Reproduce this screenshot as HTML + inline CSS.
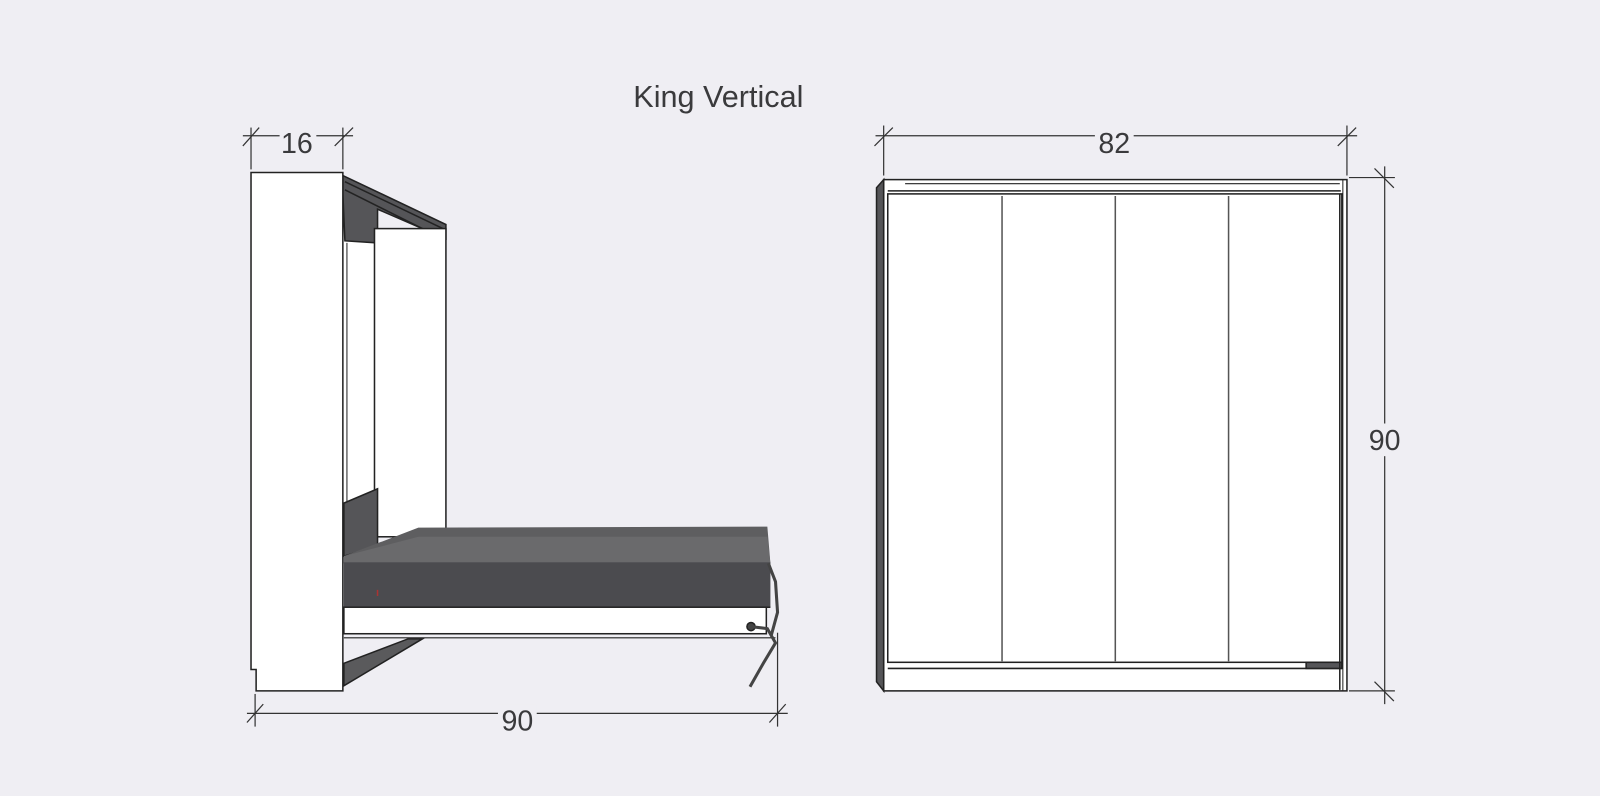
<!DOCTYPE html>
<html><head><meta charset="utf-8"><style>
html,body{margin:0;padding:0;background:#efeef3;}
svg{display:block;}
text{font-family:"Liberation Sans",sans-serif;fill:#3a3a3c;}
</style></head><body>
<svg width="1600" height="796" viewBox="0 0 1568 780" preserveAspectRatio="none" xmlns="http://www.w3.org/2000/svg">
<rect width="1568" height="780" fill="#efeef3"/>
<text x="704" y="105" font-size="30" text-anchor="middle">King Vertical</text>

<!-- LEFT VIEW -->
<g stroke="#222" stroke-width="1.5">
  <polygon points="337,650 400,626 414,626 337,672" fill="#5a5a5c"/>
  <rect x="336" y="225" width="32" height="300" fill="#fff" stroke="none"/>
  <polygon points="336,172 437,220 437,234 370,205 370,238 338,236 336,190" fill="#555558"/>
  <polyline points="338,178 434,224" fill="none" stroke="#222"/>
  <polyline points="338,186 430,232" fill="none" stroke="#222"/>
  <rect x="367" y="224" width="70" height="302" fill="#fff"/>
  <line x1="340" y1="238" x2="340" y2="525" stroke-width="1"/>
  <polygon points="337,493 370,479 370,535 337,545" fill="#555558"/>
  <polygon points="337,545 410,517 752,516 755,552 337,552" fill="#5e5e60" stroke="none"/>
  <polygon points="337,545 410,526 752,526 755,552 337,552" fill="#6a6a6c" stroke="none"/>
  <rect x="337" y="551" width="418" height="44" fill="#4b4b4f" stroke="none"/>
  <line x1="337" y1="595" x2="755" y2="595"/>
  <rect x="337" y="595" width="414" height="26" fill="#fff"/>
  <line x1="337" y1="625" x2="760" y2="625" stroke-width="1"/>
  <path d="M246,169 L336,169 L336,677 L251,677 L251,656 L246,656 Z" fill="#fff"/>
  <polyline points="753,552 760,570 762,600 756,622" fill="none" stroke="#444" stroke-width="3"/>
  <circle cx="736" cy="614" r="4" fill="#444"/>
  <polyline points="736,614 752,616 760,630 748,650 735,673" fill="none" stroke="#444" stroke-width="3"/>
  <line x1="370" y1="578" x2="370" y2="584" stroke="#a33" stroke-width="1.5"/>
</g>

<g stroke="#333" stroke-width="1.2">
  <line x1="238" y1="133" x2="346" y2="133"/>
  <line x1="246" y1="125" x2="246" y2="166"/>
  <line x1="336" y1="125" x2="336" y2="166"/>
  <line x1="238" y1="143" x2="254" y2="125"/>
  <line x1="328" y1="143" x2="346" y2="125"/>
  <line x1="242" y1="699" x2="772" y2="699"/>
  <line x1="250" y1="680" x2="250" y2="712"/>
  <line x1="762" y1="620" x2="762" y2="712"/>
  <line x1="242" y1="708" x2="258" y2="690"/>
  <line x1="754" y1="708" x2="770" y2="690"/>
</g>
<rect x="274" y="125" width="36" height="30" fill="#efeef3"/>
<text x="291" y="150" font-size="28" text-anchor="middle">16</text>
<rect x="488" y="690" width="38" height="30" fill="#efeef3"/>
<text x="507" y="716" font-size="28" text-anchor="middle">90</text>

<!-- RIGHT VIEW -->
<g stroke="#222" stroke-width="1.5">
  <rect x="866" y="176" width="454" height="501" fill="#fff"/>
  <polygon points="859,184 866,176 866,677 859,668" fill="#555558"/>
  <line x1="887" y1="180" x2="1313" y2="180" stroke-width="1"/>
  <line x1="870" y1="187" x2="1314" y2="187"/>
  <rect x="870" y="190" width="445" height="459" fill="#fff"/>
  <line x1="982" y1="192" x2="982" y2="648" stroke="#555"/>
  <line x1="1093" y1="192" x2="1093" y2="648" stroke="#555"/>
  <line x1="1204" y1="192" x2="1204" y2="648" stroke="#555"/>
  <line x1="870" y1="655" x2="1315" y2="655"/>
  <rect x="1280" y="649" width="35" height="6" fill="#555558"/>
  <line x1="1313" y1="190" x2="1313" y2="676"/>
  <line x1="1316" y1="176" x2="1316" y2="677" stroke-width="1"/>
</g>
<g stroke="#333" stroke-width="1.2">
  <line x1="858" y1="133" x2="1330" y2="133"/>
  <line x1="866" y1="123" x2="866" y2="172"/>
  <line x1="1320" y1="123" x2="1320" y2="172"/>
  <line x1="857" y1="143" x2="875" y2="125"/>
  <line x1="1311" y1="143" x2="1329" y2="125"/>
  <line x1="1357" y1="163" x2="1357" y2="690"/>
  <line x1="1322" y1="174" x2="1367" y2="174"/>
  <line x1="1322" y1="677" x2="1367" y2="677"/>
  <line x1="1347" y1="165" x2="1366" y2="184"/>
  <line x1="1347" y1="668" x2="1366" y2="687"/>
</g>
<rect x="1073" y="125" width="38" height="30" fill="#efeef3"/>
<text x="1092" y="150" font-size="28" text-anchor="middle">82</text>
<rect x="1338" y="415" width="38" height="32" fill="#efeef3"/>
<text x="1357" y="441" font-size="28" text-anchor="middle">90</text>
</svg>
</body></html>
